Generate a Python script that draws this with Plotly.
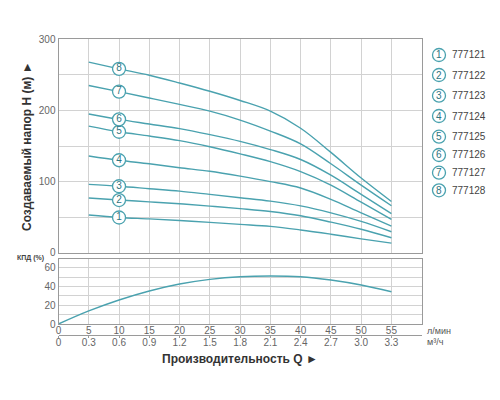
import plotly.graph_objects as go

# flow, l/min and matching m3/h tick labels
flow = [5, 10, 15, 20, 25, 30, 35, 40, 45, 50, 55]
flow_ticks = [0, 5, 10, 15, 20, 25, 30, 35, 40, 45, 50, 55]
m3h_ticks = ["0", "0.3", "0.6", "0.9", "1.2", "1.5", "1.8", "2.1", "2.4", "2.7", "3.0", "3.3"]

# head curves H (m), one list per pump
head_1 = [53, 49.5, 47.5, 45.2, 42.6, 39.8, 37, 32, 26, 19.5, 13.5]
head_2 = [77, 74, 71.5, 68.8, 65.5, 62, 58, 52, 43, 33, 21]
head_3 = [96, 93.4, 90, 86.6, 82, 77.3, 72.5, 65.8, 56, 44, 29.5]
head_4 = [136, 130, 125, 119.5, 114.5, 107.7, 100, 91, 75, 56, 37.5]
head_5 = [178, 170, 164, 157.5, 149, 139, 128, 114, 95, 71, 47]
head_6 = [195, 187.5, 181, 174.5, 166, 156.5, 145, 131, 109, 82, 55]
head_7 = [235, 226.5, 217.5, 208.5, 199, 186.5, 171, 153, 125, 95, 66]
head_8 = [268, 258.5, 249.5, 238.6, 227, 214, 199, 175, 141, 105, 72]
heads = [head_1, head_2, head_3, head_4, head_5, head_6, head_7, head_8]
models = ["777121", "777122", "777123", "777124", "777125", "777126", "777127", "777128"]

# efficiency (%)
eff_flow = [0, 5, 10, 15, 20, 25, 30, 35, 40, 45, 50, 55]
efficiency = [0, 13.9, 25.6, 35.2, 42.6, 47.6, 50.4, 51.2, 50.4, 46.9, 41.6, 34.4]

line_color = "#4aa2af"
num_color = "#2e7480"
grid_color = "#d2d2d2"
frame_color = "#9a9a9a"
font = "Liberation Sans, Arial, sans-serif"

W, H = 500, 400
OFF = 8  # page body margin


def px_x(x):
    return (x - OFF) / W


def px_y(y):
    return 1 - (y - OFF) / H


fig = go.Figure()

for h in heads:
    fig.add_trace(go.Scatter(
        x=flow, y=h, mode="lines", line=dict(color=line_color, width=1.4, shape="spline"),
        xaxis="x", yaxis="y", hoverinfo="skip", showlegend=False,
    ))

# numbered markers on each curve at 10 l/min
fig.add_trace(go.Scatter(
    x=[flow[1]] * len(heads), y=[h[1] for h in heads],
    mode="markers+text", text=[str(i + 1) for i in range(len(heads))],
    textposition="middle center", textfont=dict(size=10, color=num_color, family=font),
    marker=dict(size=13, color="white", line=dict(color=line_color, width=1.3)),
    xaxis="x", yaxis="y", hoverinfo="skip", showlegend=False,
))

fig.add_trace(go.Scatter(
    x=eff_flow, y=efficiency, mode="lines", line=dict(color=line_color, width=1.4, shape="spline"),
    xaxis="x2", yaxis="y2", hoverinfo="skip", showlegend=False,
))
# dummy trace so the m3/h axis is drawn
fig.add_trace(go.Scatter(
    x=[0], y=[0], mode="markers", marker=dict(opacity=0),
    xaxis="x3", yaxis="y2", hoverinfo="skip", showlegend=False,
))

xdom = [px_x(58.5), px_x(421.7)]
tick_font = dict(size=10, color="#666", family=font)
common_x = dict(
    domain=xdom, range=[0, 60], tickvals=flow_ticks, showgrid=True, gridcolor=grid_color,
    gridwidth=1, showline=True, linecolor=frame_color, mirror=True, zeroline=False, ticks="",
    tickfont=tick_font, fixedrange=True, automargin=False,
)

fig.update_layout(
    width=W, height=H,
    margin=dict(l=0, r=0, t=0, b=0),
    paper_bgcolor="white", plot_bgcolor="white",
    font=dict(family=font),
    xaxis=dict(common_x, anchor="y", showticklabels=False),
    yaxis=dict(
        domain=[px_y(252.7), px_y(39.3)], range=[0, 300], anchor="x",
        tickvals=[0, 50, 100, 150, 200, 250, 300],
        ticktext=["0", "", "100", "", "200", "", "300"],
        showgrid=True, gridcolor=grid_color, showline=True, linecolor=frame_color,
        mirror=True, zeroline=False, ticks="", tickfont=tick_font, fixedrange=True,
        automargin=False,
    ),
    xaxis2=dict(common_x, anchor="y2", ticktext=[str(v) for v in flow_ticks],
                ticklabelstandoff=-3),
    yaxis2=dict(
        domain=[px_y(324), px_y(259.3)], range=[0, 69], anchor="x2",
        tickvals=[0, 10, 20, 30, 40, 50, 60],
        ticktext=["0", "", "20", "", "40", "", "60"],
        showgrid=True, gridcolor=grid_color, showline=True, linecolor=frame_color,
        mirror=True, zeroline=False, ticks="", tickfont=tick_font, fixedrange=True,
        automargin=False,
    ),
    xaxis3=dict(
        domain=xdom, range=[0, 60], overlaying="x2", anchor="free", position=px_y(335),
        side="bottom", tickvals=flow_ticks, ticktext=m3h_ticks, showgrid=False,
        showline=True, linecolor=frame_color, ticks="outside", ticklen=2,
        tickcolor=frame_color, zeroline=False, tickfont=tick_font, fixedrange=True,
        automargin=False, ticklabelstandoff=-4,
    ),
)


def note(text, x, y, size, color, xanchor="center", **kw):
    fig.add_annotation(
        text=text, x=px_x(x), y=px_y(y), xref="paper", yref="paper",
        xanchor=xanchor, yanchor="middle", showarrow=False,
        font=dict(size=size, color=color, family=font), **kw,
    )


note("<b>Создаваемый напор H (м) ►</b>", 27, 146, 12, "#333", textangle=-90)
note("<b>Производительность Q ►</b>", 240, 359, 12, "#333")
note("л/мин", 425, 331, 9, "#555", xanchor="left")
note("м³/ч", 425, 342, 9, "#555", xanchor="left")
note("<b>КПД (%)</b>", 46, 258, 7, "#444", xanchor="right")

# legend: circled number + model code
legend_y = [55, 75, 95.7, 116, 136.7, 155, 172.7, 190.3]
cx, r = 439, 6.5
for i, (name, ly) in enumerate(zip(models, legend_y)):
    fig.add_shape(
        type="circle", xref="paper", yref="paper",
        x0=px_x(cx - r), x1=px_x(cx + r), y0=px_y(ly + r), y1=px_y(ly - r),
        line=dict(color=line_color, width=1.3), fillcolor="white",
    )
    note(str(i + 1), cx, ly, 10, num_color)
    note(name, 450, ly, 10, "#444", xanchor="left")

fig.write_html("out.html")
